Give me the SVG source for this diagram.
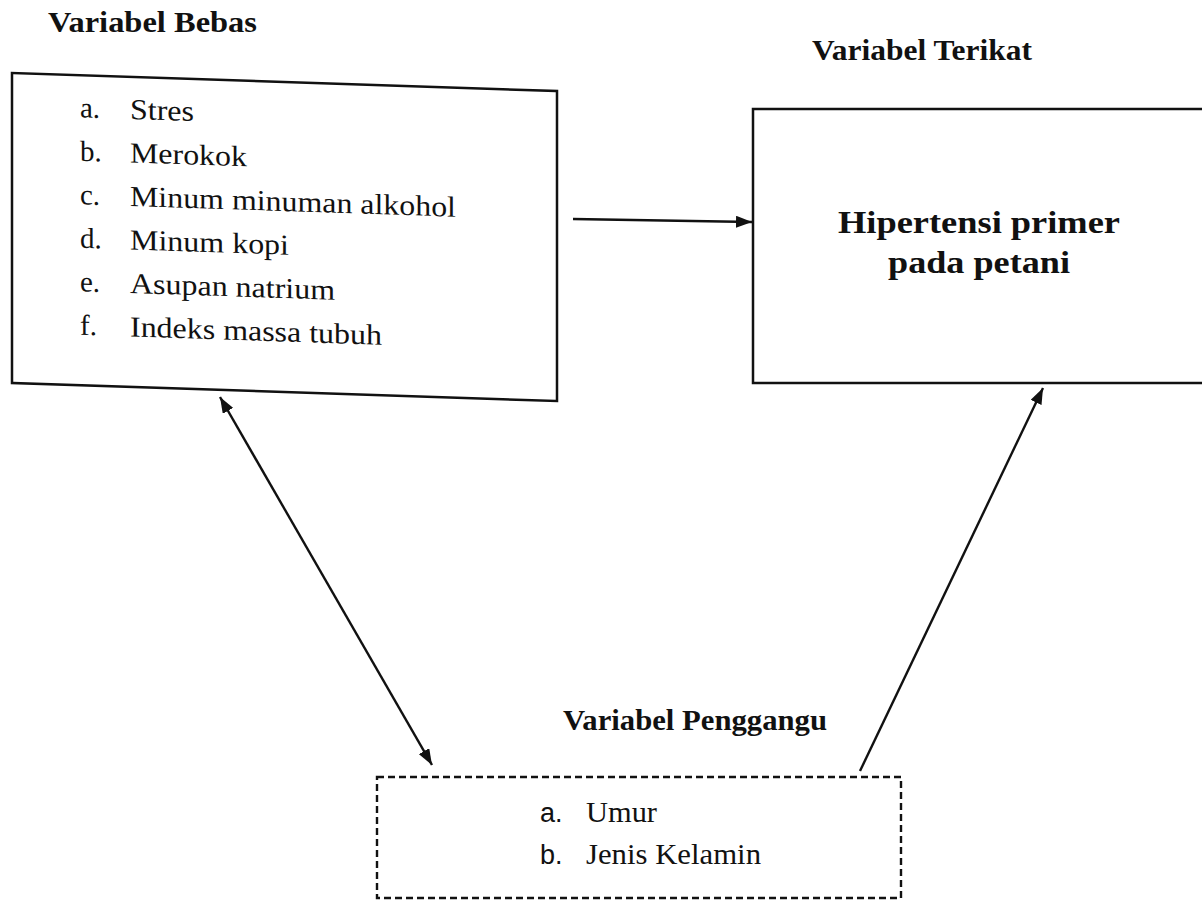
<svg xmlns="http://www.w3.org/2000/svg" width="1202" height="903" viewBox="0 0 1202 903">
<style>
.box{fill:#fff;stroke:#111;stroke-width:2.5}
.dash{fill:#fff;stroke:#111;stroke-width:2.4;stroke-dasharray:7 4}
.title{font-family:"Liberation Serif","Times New Roman",Times,serif;font-weight:bold;font-size:30px;fill:#111}
.item{font-family:"Liberation Serif","Times New Roman",Times,serif;font-size:29px;fill:#111}
.big{font-family:"Liberation Serif","Times New Roman",Times,serif;font-weight:bold;font-size:32px;fill:#111;text-anchor:middle}
.sans{font-family:"Liberation Sans",Arial,sans-serif;font-size:27px;fill:#111}
.conn{stroke:#111;stroke-width:2.4;fill:none}
</style>
<defs>
<marker id="ah" viewBox="0 0 16 12" refX="16" refY="6" markerWidth="16" markerHeight="12" markerUnits="userSpaceOnUse" orient="auto-start-reverse">
<path d="M0,0 L16,6 L0,12 Z" fill="#111"/>
</marker>
</defs>
<rect width="1202" height="903" fill="#fff"/>

<g id="title-bebas"><text class="title" x="48" y="32" textLength="209" lengthAdjust="spacingAndGlyphs">Variabel Bebas</text></g>
<g id="title-terikat"><text class="title" x="812" y="60" textLength="220" lengthAdjust="spacingAndGlyphs">Variabel Terikat</text></g>
<g id="title-pengganggu"><text class="title" x="563" y="730" textLength="264" lengthAdjust="spacingAndGlyphs">Variabel Penggangu</text></g>

<g id="node-bebas" transform="translate(12,0) skewY(1.9) translate(-12,0)">
<rect class="box" x="12" y="73" width="545" height="310"/>
<text class="item" x="80" y="115">a.</text><text class="item" x="130" y="115" textLength="64" lengthAdjust="spacingAndGlyphs">Stres</text>
<text class="item" x="80" y="158.5">b.</text><text class="item" x="130" y="158.5" textLength="117" lengthAdjust="spacingAndGlyphs">Merokok</text>
<text class="item" x="80" y="202">c.</text><text class="item" x="130" y="202" textLength="326" lengthAdjust="spacingAndGlyphs">Minum minuman alkohol</text>
<text class="item" x="80" y="245.5">d.</text><text class="item" x="130" y="245.5" textLength="159" lengthAdjust="spacingAndGlyphs">Minum kopi</text>
<text class="item" x="80" y="289">e.</text><text class="item" x="130" y="289" textLength="205" lengthAdjust="spacingAndGlyphs">Asupan natrium</text>
<text class="item" x="80" y="332.5">f.</text><text class="item" x="130" y="332.5" textLength="252" lengthAdjust="spacingAndGlyphs">Indeks massa tubuh</text>
</g>

<g id="node-terikat">
<rect class="box" x="753" y="109" width="460" height="274"/>
<text class="big" x="979" y="233" textLength="282" lengthAdjust="spacingAndGlyphs">Hipertensi primer</text>
<text class="big" x="979" y="273" textLength="182" lengthAdjust="spacingAndGlyphs">pada petani</text>
</g>

<g id="node-pengganggu">
<rect class="dash" x="377" y="777" width="524" height="121"/>
<text class="sans" x="540" y="822">a.</text><text class="item" x="586" y="822" font-size="28" textLength="71" lengthAdjust="spacingAndGlyphs">Umur</text>
<text class="sans" x="540" y="864">b.</text><text class="item" x="586" y="864" font-size="28" textLength="175" lengthAdjust="spacingAndGlyphs">Jenis Kelamin</text>
</g>

<g id="connectors">
<line class="conn" x1="573" y1="219" x2="752" y2="222" marker-end="url(#ah)"/>
<line class="conn" x1="220" y1="397" x2="432" y2="765" marker-start="url(#ah)" marker-end="url(#ah)"/>
<line class="conn" x1="860" y1="771" x2="1043" y2="388" marker-end="url(#ah)"/>
</g>
</svg>
